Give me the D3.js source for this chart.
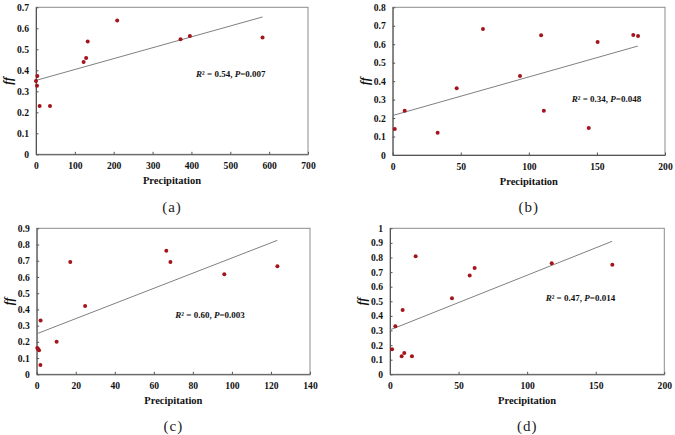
<!DOCTYPE html>
<html>
<head>
<meta charset="utf-8">
<script src="https://cdn.jsdelivr.net/npm/d3@7"></script>
<style>
  body { margin: 0; background: #fff; }
  text { font-family: "Liberation Serif", "Times New Roman", serif; }
</style>
</head>
<body>
<div id="chart"></div>
<script>
// data (precipitation vs ff)
const precipA = [0, 2.6, 3.4, 9.4, 36, 122.5, 129, 133, 209, 372, 396, 583];
const ffA     = [0.349, 0.327, 0.373, 0.230, 0.230, 0.440, 0.459, 0.537, 0.637, 0.548, 0.563, 0.556];
const fitA    = [[0, 0.352], [583, 0.654]];

const precipB = [1.5, 8.8, 33, 47, 66.3, 93.5, 109, 111, 144, 150.5, 176.7, 180.2];
const ffB     = [0.141, 0.240, 0.121, 0.361, 0.683, 0.428, 0.648, 0.240, 0.146, 0.612, 0.650, 0.645];
const fitB    = [[0.5, 0.215], [180, 0.590]];

const precipC = [0.3, 0.7, 1.2, 1.9, 2.0, 10.2, 17.2, 24.8, 66.4, 68.5, 96.1, 123.3];
const ffC     = [0.162, 0.156, 0.148, 0.058, 0.331, 0.201, 0.692, 0.421, 0.762, 0.692, 0.616, 0.666];
const fitC    = [[0.3, 0.251], [123.3, 0.826]];

const precipD = [1.5, 3.9, 8.5, 9.2, 10.4, 16, 18.7, 45.2, 58.1, 61.7, 117.9, 162.1];
const ffD     = [0.171, 0.329, 0.123, 0.441, 0.146, 0.123, 0.808, 0.521, 0.676, 0.728, 0.760, 0.751];
const fitD    = [[0, 0.304], [162, 0.911]];

const xTicksA = [0, 100, 200, 300, 400, 500, 600, 700];
const xTicksB = [0, 50, 100, 150, 200];
const xTicksC = [0, 20, 40, 60, 80, 100, 120, 140];
const xTicksD = [0, 50, 100, 150, 200];
const yTicksA = d3.range(0, 8).map(i => i / 10);
const yTicksB = d3.range(0, 9).map(i => i / 10);
const yTicksC = d3.range(0, 10).map(i => i / 10);
const yTicksD = d3.range(0, 11).map(i => i / 10);

const statsA = ["0.54", "0.007"];
const statsB = ["0.34", "0.048"];
const statsC = ["0.60", "0.003"];
const statsD = ["0.47", "0.014"];
const captions = ["(a)", "(b)", "(c)", "(d)"];

const width = 675, height = 435;

const svg = d3.select('#chart')
              .append('svg')
              .attr('width', width)
              .attr('height', height);

// panel boxes (pixels) and where the annotation sits, in data units
const panels = [
  { x: precipA, y: ffA, fit: fitA, xt: xTicksA, yt: yTicksA, st: statsA, cap: captions[0],
    box: [36, 7.3, 308, 154.3], note: [412, 0.368], capY: 207 },
  { x: precipB, y: ffB, fit: fitB, xt: xTicksB, yt: yTicksB, st: statsB, cap: captions[1],
    box: [392.7, 7.3, 665, 155], note: [131.5, 0.285], capY: 207 },
  { x: precipC, y: ffC, fit: fitC, xt: xTicksC, yt: yTicksC, st: statsC, cap: captions[2],
    box: [36.7, 228.3, 310, 374.3], note: [71, 0.35], capY: 426 },
  { x: precipD, y: ffD, fit: fitD, xt: xTicksD, yt: yTicksD, st: statsD, cap: captions[3],
    box: [390, 228.3, 664.3, 374.3], note: [113.5, 0.505], capY: 426 }
];

const fmt = d => String(+d.toFixed(1));

panels.forEach(p => {
  const [x0, y0, x1, y1] = p.box;
  const xs = d3.scaleLinear().domain([0, d3.max(p.xt)]).range([x0, x1]);
  const ys = d3.scaleLinear().domain([0, d3.max(p.yt)]).range([y1, y0]);
  const g = svg.append('g');

  g.append('rect')
   .attr('x', x0).attr('y', y0)
   .attr('width', x1 - x0).attr('height', y1 - y0)
   .attr('fill', 'none')
   .attr('stroke', '#8c8c8c')
   .attr('stroke-width', 1);

  const xAxis = g.append('g')
                 .attr('transform', `translate(0,${y1})`)
                 .call(d3.axisBottom(xs).tickValues(p.xt).tickSize(-2.5).tickSizeOuter(0).tickPadding(7.8));
  const yAxis = g.append('g')
                 .attr('transform', `translate(${x0},0)`)
                 .call(d3.axisLeft(ys).tickValues(p.yt).tickFormat(fmt).tickSize(-2.5).tickSizeOuter(0).tickPadding(7));
  [xAxis, yAxis].forEach(a => {
    a.select('.domain').attr('stroke', '#555');
    a.selectAll('.tick line').attr('stroke', '#555');
    a.selectAll('.tick text')
     .attr('font-family', '"Liberation Serif", serif')
     .attr('font-weight', 'bold')
     .attr('font-size', 9.6)
     .attr('fill', '#111');
  });

  // regression line
  g.append('line')
   .attr('x1', xs(p.fit[0][0])).attr('y1', ys(p.fit[0][1]))
   .attr('x2', xs(p.fit[1][0])).attr('y2', ys(p.fit[1][1]))
   .attr('stroke', '#808080')
   .attr('stroke-width', 1);

  g.selectAll('circle')
   .data(d3.zip(p.x, p.y))
   .enter().append('circle')
   .attr('cx', d => xs(d[0]))
   .attr('cy', d => ys(d[1]))
   .attr('r', 2)
   .attr('fill', '#a3141c');

  const note = g.append('text')
                .attr('x', xs(p.note[0]))
                .attr('y', ys(p.note[1]))
                .attr('font-size', 9)
                .attr('font-weight', 'bold')
                .attr('fill', '#111');
  note.append('tspan').attr('font-style', 'italic').text('R');
  note.append('tspan').text('\u00b2 = ' + p.st[0] + ', ');
  note.append('tspan').attr('font-style', 'italic').text('P');
  note.append('tspan').text('=' + p.st[1]);

  // axis titles
  g.append('text')
   .attr('x', (x0 + x1) / 2)
   .attr('y', y1 + 30)
   .attr('text-anchor', 'middle')
   .attr('font-size', 10.5)
   .attr('font-weight', 'bold')
   .attr('fill', '#111')
   .text('Precipitation');

  g.append('text')
   .attr('transform', `translate(${x0 - 24},${(y0 + y1) / 2}) rotate(-90)`)
   .attr('text-anchor', 'middle')
   .attr('font-size', 12)
   .attr('font-weight', 'bold')
   .attr('font-style', 'italic')
   .attr('fill', '#111')
   .text('ff');

  g.append('text')
   .attr('x', (x0 + x1) / 2)
   .attr('y', p.capY + 5)
   .attr('text-anchor', 'middle')
   .attr('font-size', 15)
   .attr('letter-spacing', 1)
   .attr('fill', '#222')
   .text(p.cap);
});
</script>
</body>
</html>
